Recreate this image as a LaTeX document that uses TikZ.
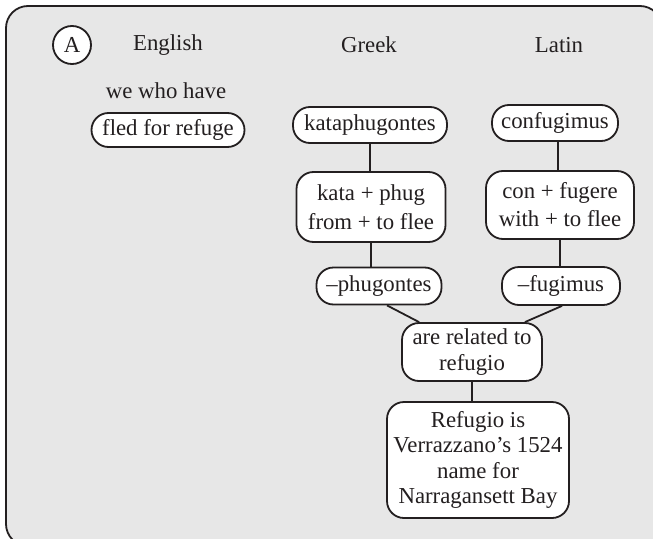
\documentclass[tikz,border=0pt]{standalone}
\usepackage{fontspec}
\setmainfont{Liberation Serif}
\usetikzlibrary{calc}
\definecolor{bg}{HTML}{E7E7E7}
\definecolor{ink}{HTML}{231F20}
\begin{document}
\begin{tikzpicture}[x=1pt,y=-1pt,
  every node/.style={text=ink},
  txt/.style={font=\fontsize{22.8}{25.3}\selectfont, inner sep=0pt},
  pill/.style={draw=ink, line width=1.8pt, fill=white, rounded corners=17pt,
    font=\fontsize{22.8}{25.3}\selectfont, inner sep=0pt, align=center},
  link/.style={draw=ink, line width=1.8pt}]
\useasboundingbox (0,0) rectangle (653,538);
\begin{scope}
\clip (0,0) rectangle (653,538);
\draw[draw=ink, line width=1.8pt, fill=bg, rounded corners=22pt] (6,6) rectangle (662,546);
\end{scope}

\node[draw=ink, line width=1.8pt, fill=white, circle, minimum size=38pt, inner sep=0pt,
  font=\fontsize{22.8}{25}\selectfont] (A) at (72,45) {A};
\node[txt] (en) at (168,45) {English};
\node[txt] (gr) at (369,45) {Greek};
\node[txt] (la) at (559,45) {Latin};
\node[txt] (we) at (166,91) {we who have};

\node[pill, minimum width=153pt, minimum height=34pt] (fled) at (168,130) {fled for refuge};
\node[pill, minimum width=154pt, minimum height=36pt] (kph) at (370,125) {kataphugontes};
\node[pill, minimum width=126pt, minimum height=36pt] (cfg) at (555,123) {confugimus};
\node[pill, minimum width=149pt, minimum height=70pt, font=\fontsize{22.8}{29}\selectfont] (kata) at (371,207) {kata + phug\\from + to flee};
\node[pill, minimum width=148pt, minimum height=68pt, font=\fontsize{22.8}{28}\selectfont] (con) at (560,205) {con + fugere\\with + to flee};
\node[pill, minimum width=125pt, minimum height=37pt] (ph) at (379,286) {–phugontes};
\node[pill, minimum width=118pt, minimum height=38pt] (fu) at (561,286) {–fugimus};
\node[pill, minimum width=140pt, minimum height=58pt] (rel) at (472,352) {are related to\\refugio};
\node[pill, minimum width=182pt, minimum height=116pt] (ref) at (478,460) {Refugio is\\Verrazzano’s 1524\\name for\\Narragansett Bay};

\draw[link] (kph.south) -- (kph.south |- kata.north);
\draw[link] (kata.south) -- (kata.south |- ph.north);
\draw[link] ([xshift=3pt]cfg.south) -- ([xshift=3pt]cfg.south |- con.north);
\draw[link] (con.south) -- (con.south |- fu.north);
\draw[link] ([xshift=8pt]ph.south) -- ([xshift=18pt]rel.north west);
\draw[link] ([xshift=1pt]fu.south) -- ([xshift=-18pt]rel.north east);
\draw[link] (rel.south) -- (rel.south |- ref.north);
\end{tikzpicture}
\end{document}
